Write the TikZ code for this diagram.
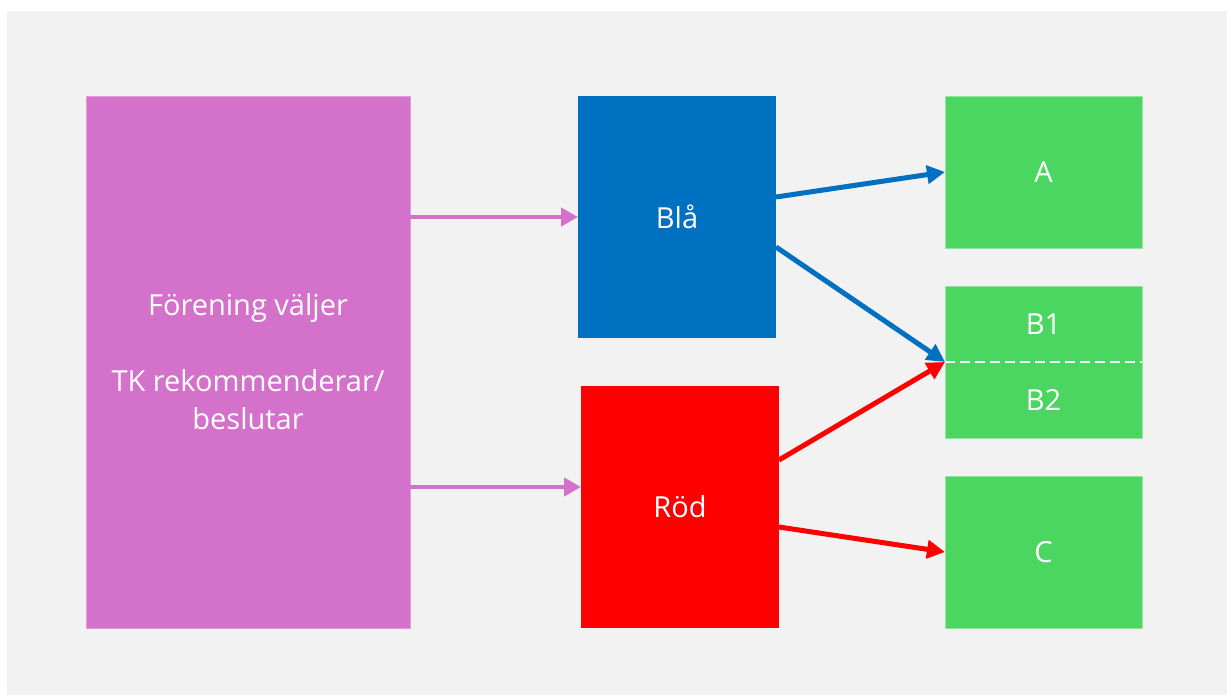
\documentclass[tikz,border=0pt]{standalone}
\usepackage{fontspec}
\setmainfont{Open Sans}
\usetikzlibrary{arrows.meta,calc}
\definecolor{bg}{HTML}{F2F2F2}
\definecolor{pinkc}{HTML}{D471CA}
\definecolor{bluec}{HTML}{0070C0}
\definecolor{redc}{HTML}{FF0000}
\definecolor{greenc}{HTML}{4AD660}
\begin{document}
\begin{tikzpicture}[x=1pt,y=-1pt,
  box/.style={anchor=north west,inner sep=0pt,outer sep=0pt,text=white,
    font=\fontsize{29}{38}\selectfont,align=center},
  lbl/.style={text=white,font=\fontsize{29}{38}\selectfont,inner sep=0pt},
  conn/.style={line width=5pt,-{Triangle[length=18pt,width=18pt]}},
  pconn/.style={line width=4.5pt,-{Triangle[length=17pt,width=18pt]}},
]
\useasboundingbox (0,0) rectangle (1227,695);
\fill[white] (0,0) rectangle (1227,695);
\fill[bg] (7,11) rectangle (1227,695);

\node[box,fill=pinkc,draw=pinkc!70!white,line width=0.8pt,minimum width=324pt,minimum height=532pt] (pink) at (86,96) {Förening väljer\\[38pt]TK rekommenderar/\\beslutar};
\node[box,fill=bluec,minimum width=198pt,minimum height=242pt] (blue) at (578,96) {Blå};
\node[box,fill=redc,minimum width=198pt,minimum height=242pt] (red) at (581,386) {Röd};
\node[box,fill=greenc,draw=greenc!60!white,line width=0.8pt,minimum width=197pt,minimum height=152pt] (A) at (945,96) {A};
\node[box,fill=greenc,draw=greenc!60!white,line width=0.8pt,minimum width=197pt,minimum height=152pt] (B) at (945,286) {};
\node[box,fill=greenc,draw=greenc!60!white,line width=0.8pt,minimum width=197pt,minimum height=152pt] (C) at (945,476) {C};
\draw[white,line width=2.6pt,dash pattern=on 9.5pt off 5.5pt] (B.west) -- (B.east);
\node[lbl] (B1) at ($(B.north)!0.5!(B.center)$) {B1};
\node[lbl] (B2) at ($(B.south)!0.5!(B.center)$) {B2};

\coordinate (p1) at (pink.east |- blue.west);
\coordinate (p2) at ([yshift=-125pt]pink.east);
\draw[pconn,draw=pinkc,fill=pinkc] (p1) -- (blue.west);
\draw[pconn,draw=pinkc,fill=pinkc] (p2) -- (p2 -| red.west);

\coordinate (b1) at ([yshift=20pt]blue.east);
\coordinate (b2) at ([yshift=-30pt]blue.east);
\coordinate (r1) at ([yshift=47pt]red.east);
\coordinate (r2) at ([yshift=-20pt]red.east);
\draw[conn,draw=bluec,fill=bluec] (b1) -- (A.west);
\draw[conn,draw=bluec,fill=bluec] (b2) -- (B.west);
\draw[conn,draw=redc,fill=redc] (r1) -- (B.west);
\draw[conn,draw=redc,fill=redc] (r2) -- (C.west);
\end{tikzpicture}
\end{document}
